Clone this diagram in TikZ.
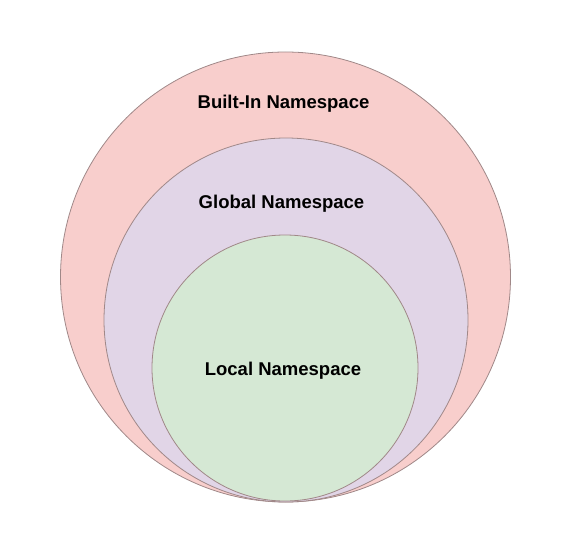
\documentclass[tikz,border=0pt]{standalone}
\usepackage{fontspec}
\setmainfont{Liberation Sans}
\begin{document}
\begin{tikzpicture}[x=1pt,y=-1pt,
  ring/.style={draw=edgecol, line width=0.8pt},
  lbl/.style={font=\fontsize{18.5}{22}\selectfont\bfseries, text=black, inner sep=0pt}]
\definecolor{edgecol}{HTML}{A08888}
\definecolor{pinkfill}{HTML}{F8CECC}
\definecolor{purplefill}{HTML}{E1D5E7}
\definecolor{greenfill}{HTML}{D5E8D4}
\useasboundingbox[fill=white] (0,0) rectangle (572,537);
\path[ring, fill=pinkfill] (285.5,277) circle (225);
\path[ring, fill=purplefill] (286,320) circle (182);
\path[ring, fill=greenfill] (285,368) circle (133);
\node[lbl] (builtin) at (283.5,104) {Built-In Namespace};
\node[lbl] (global) at (281.5,204) {Global Namespace};
\node[lbl] (local) at (283,371) {Local Namespace};
\end{tikzpicture}
\end{document}
